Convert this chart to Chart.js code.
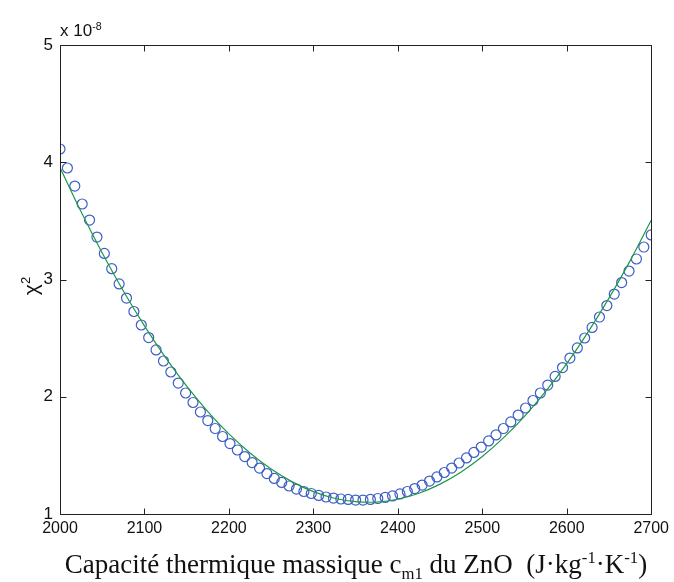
<!DOCTYPE html>
<html lang="fr">
<head>
  <meta charset="UTF-8" />
  <title>Chi2 vs capacité thermique</title>
  <script src="https://cdn.jsdelivr.net/npm/chart.js"></script>
  <style>
    html, body { margin: 0; padding: 0; background: #fff; }
    canvas { display: block; }
  </style>
</head>
<body>
  <canvas id="chi2Chart" width="674" height="582"></canvas>

  <script>
    // values in units of 1e-8
    const cpPoints = [
      2000, 2008.75, 2017.5, 2026.25, 2035, 2043.75, 2052.5, 2061.25, 2070, 2078.75,
      2087.5, 2096.25, 2105, 2113.75, 2122.5, 2131.25, 2140, 2148.75, 2157.5, 2166.25,
      2175, 2183.75, 2192.5, 2201.25, 2210, 2218.75, 2227.5, 2236.25, 2245, 2253.75,
      2262.5, 2271.25, 2280, 2288.75, 2297.5, 2306.25, 2315, 2323.75, 2332.5, 2341.25,
      2350, 2358.75, 2367.5, 2376.25, 2385, 2393.75, 2402.5, 2411.25, 2420, 2428.75,
      2437.5, 2446.25, 2455, 2463.75, 2472.5, 2481.25, 2490, 2498.75, 2507.5, 2516.25,
      2525, 2533.75, 2542.5, 2551.25, 2560, 2568.75, 2577.5, 2586.25, 2595, 2603.75,
      2612.5, 2621.25, 2630, 2638.75, 2647.5, 2656.25, 2665, 2673.75, 2682.5, 2691.25,
      2700
    ];
    const chi2Points = [
      4.113, 3.951, 3.797, 3.644, 3.507, 3.362, 3.222, 3.092, 2.962, 2.842,
      2.727, 2.612, 2.505, 2.399, 2.305, 2.211, 2.117, 2.032, 1.951, 1.870,
      1.797, 1.729, 1.661, 1.601, 1.546, 1.490, 1.439, 1.392, 1.345, 1.303,
      1.269, 1.239, 1.213, 1.192, 1.175, 1.158, 1.145, 1.136, 1.128, 1.124,
      1.119, 1.119, 1.124, 1.132, 1.141, 1.154, 1.171, 1.192, 1.217, 1.247,
      1.281, 1.316, 1.354, 1.392, 1.435, 1.478, 1.525, 1.571, 1.623, 1.674,
      1.729, 1.785, 1.844, 1.904, 1.968, 2.032, 2.100, 2.173, 2.249, 2.330,
      2.416, 2.501, 2.591, 2.680, 2.778, 2.876, 2.974, 3.072, 3.175, 3.277,
      3.380
    ];

    // fitted curve
    const cpFit = [
      2000, 2025, 2050, 2075, 2100, 2125, 2150, 2175, 2200, 2225,
      2250, 2275, 2300, 2325, 2350, 2375, 2400, 2425, 2450, 2475,
      2500, 2525, 2550, 2575, 2600, 2625, 2650, 2675, 2700
    ];
    const chi2Fit = [
      3.955, 3.577, 3.226, 2.902, 2.605, 2.334, 2.091, 1.874, 1.683, 1.520,
      1.383, 1.274, 1.191, 1.134, 1.105, 1.102, 1.126, 1.177, 1.255, 1.359,
      1.491, 1.649, 1.833, 2.045, 2.283, 2.549, 2.841, 3.159, 3.505
    ];

    const xTicks = [2000, 2100, 2200, 2300, 2400, 2500, 2600, 2700];
    const yTicks = [1, 2, 3, 4, 5];

    const sans = "'Liberation Sans', Arial, Helvetica, sans-serif";
    const serif = "'Liberation Serif', 'Times New Roman', serif";
    const axisColor = '#222';

    // draw runs of text with sub/superscripts
    function drawRich(ctx, parts, x, y, size, font) {
      let cx = x;
      parts.forEach(p => {
        const s = p.sub || p.sup ? size * 0.62 : size;
        ctx.font = s + 'px ' + font;
        const dy = p.sub ? size * 0.22 : (p.sup ? -size * 0.38 : 0);
        ctx.fillText(p.t, cx, y + dy);
        cx += ctx.measureText(p.t).width;
      });
    }
    function richWidth(ctx, parts, size, font) {
      let w = 0;
      parts.forEach(p => {
        const s = p.sub || p.sup ? size * 0.62 : size;
        ctx.font = s + 'px ' + font;
        w += ctx.measureText(p.t).width;
      });
      return w;
    }

    const framePlugin = {
      id: 'frame',
      afterDraw(chart) {
        const ctx = chart.ctx;
        const a = chart.chartArea;
        const xs = chart.scales.x, ys = chart.scales.y;
        ctx.save();
        ctx.strokeStyle = axisColor;
        ctx.lineWidth = 1;
        const L = Math.round(a.left) + 0.5, R = Math.round(a.right) + 0.5;
        const T = Math.round(a.top) + 0.5, B = Math.round(a.bottom) + 0.5;
        ctx.strokeRect(L, T, R - L, B - T);
        const tl = 6;
        ctx.beginPath();
        xTicks.forEach(v => {
          const px = Math.round(xs.getPixelForValue(v)) + 0.5;
          ctx.moveTo(px, B); ctx.lineTo(px, B - tl);
          ctx.moveTo(px, T); ctx.lineTo(px, T + tl);
        });
        yTicks.forEach(v => {
          const py = Math.round(ys.getPixelForValue(v)) + 0.5;
          ctx.moveTo(L, py); ctx.lineTo(L + tl, py);
          ctx.moveTo(R, py); ctx.lineTo(R - tl, py);
        });
        ctx.stroke();

        ctx.fillStyle = '#111';
        ctx.textBaseline = 'alphabetic';
        ctx.textAlign = 'left';

        // exponent label
        drawRich(ctx, [{ t: 'x 10' }, { t: '-8', sup: true }], 60, 36, 17, sans);

        // x title
        const xParts = [
          { t: 'Capacité thermique massique c' }, { t: 'm1', sub: true },
          { t: ' du ZnO  (J·kg' }, { t: '-1', sup: true },
          { t: '·K' }, { t: '-1', sup: true }, { t: ')' }
        ];
        const size = 27;
        const w = richWidth(ctx, xParts, size, serif);
        drawRich(ctx, xParts, 356 - w / 2, 573, size, serif);

        // y title, rotated
        ctx.translate(38, 286);
        ctx.rotate(-Math.PI / 2);
        const yParts = [{ t: 'χ' }, { t: '2', sup: true }];
        const wy = richWidth(ctx, yParts, 21, sans);
        drawRich(ctx, yParts, -wy / 2, 0, 21, sans);
        ctx.restore();
      }
    };

    new Chart(document.getElementById('chi2Chart'), {
      type: 'scatter',
      data: {
        datasets: [
          {
            label: 'fit',
            data: cpFit.map((x, i) => ({ x: x, y: chi2Fit[i] })),
            showLine: true,
            borderColor: '#1e9846',
            borderWidth: 1.2,
            pointRadius: 0,
            tension: 0.3,
            order: 0
          },
          {
            label: 'chi2',
            data: cpPoints.map((x, i) => ({ x: x, y: chi2Points[i] })),
            showLine: false,
            pointStyle: 'circle',
            pointRadius: 5,
            borderColor: '#3d5fc4',
            backgroundColor: 'rgba(0,0,0,0)',
            borderWidth: 1.2,
            order: 1
          }
        ]
      },
      options: {
        responsive: false,
        animation: false,
        layout: { padding: { top: 45, right: 21, left: 0, bottom: 0 } },
        plugins: { legend: { display: false }, tooltip: { enabled: false } },
        scales: {
          x: {
            type: 'linear',
            min: 2000, max: 2700,
            afterFit: s => { s.height = 68; },
            afterBuildTicks: s => { s.ticks = xTicks.map(v => ({ value: v })); },
            grid: { display: false, drawTicks: false },
            border: { display: false },
            ticks: {
              color: '#111', padding: 5, maxRotation: 0,
              font: { family: sans, size: 16 },
              callback: v => String(v)
            }
          },
          y: {
            type: 'linear',
            min: 1, max: 5,
            afterFit: s => { s.width = 60; },
            afterBuildTicks: s => { s.ticks = yTicks.map(v => ({ value: v })); },
            grid: { display: false, drawTicks: false },
            border: { display: false },
            ticks: {
              color: '#111', padding: 7,
              font: { family: sans, size: 17 },
              callback: v => String(v)
            }
          }
        }
      },
      plugins: [framePlugin]
    });
  </script>
</body>
</html>
